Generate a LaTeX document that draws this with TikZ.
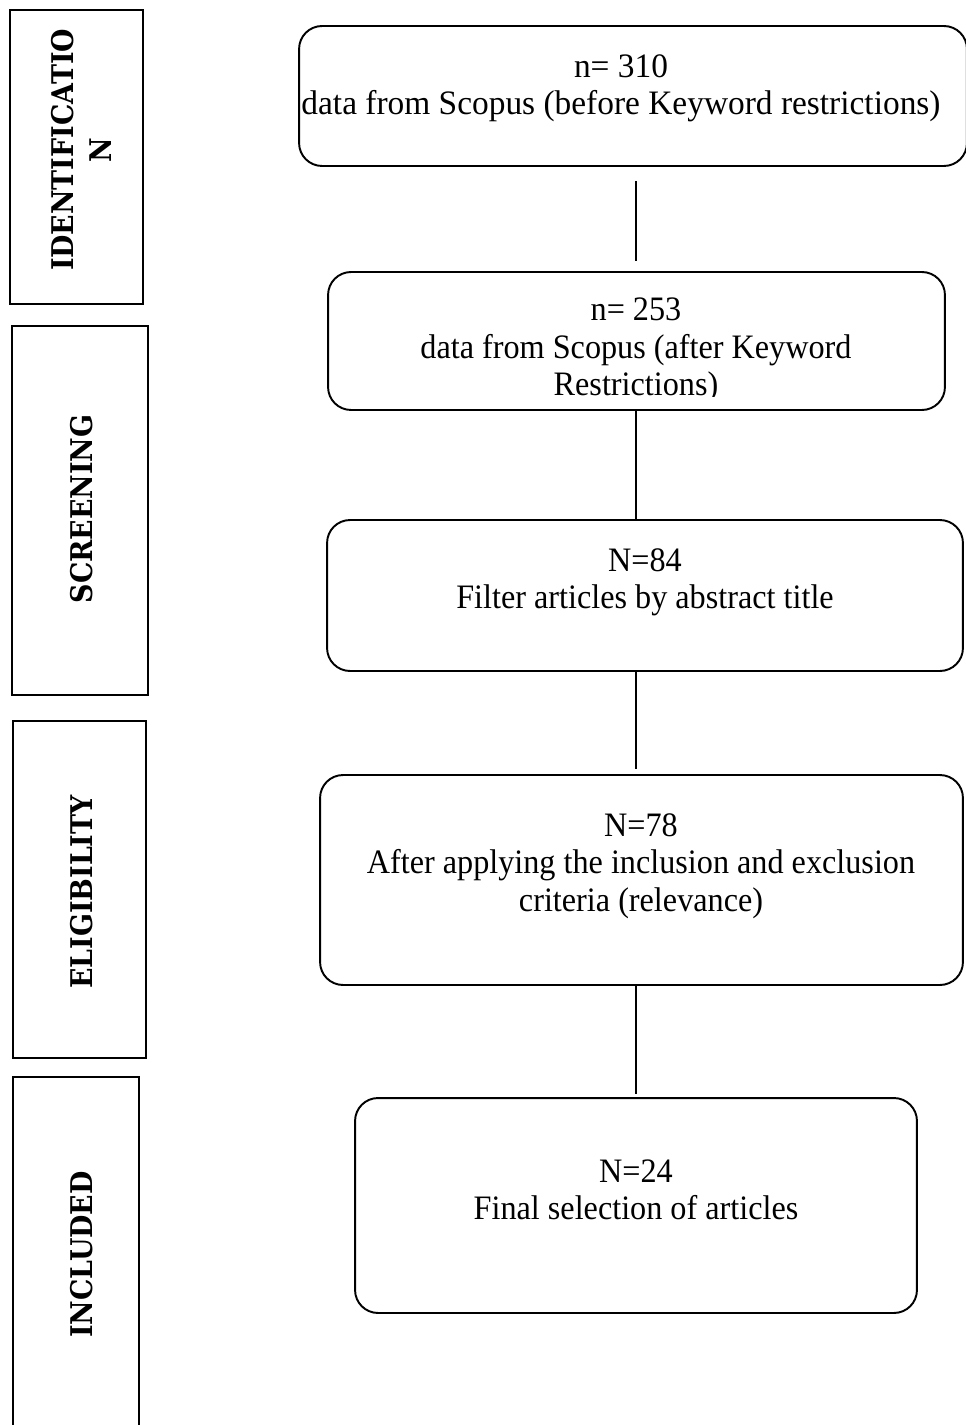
\documentclass[tikz,border=0pt]{standalone}
\usepackage{fontspec}
\setmainfont{Liberation Serif}[FakeStretch=0.94]
\newfontfamily\widefont{Liberation Serif}[FakeStretch=0.975]
\newfontfamily\phasefont{DejaVu Serif}[FakeStretch=0.9]

\begin{document}
\begin{tikzpicture}[x=0.02cm, y=-0.02cm,
    phase/.style={draw, line width=1.4pt},
    phaselabel/.style={rotate=90, align=center, font=\phasefont\bfseries\fontsize{17}{21.6}\selectfont},
    record/.style={draw, rounded corners=0.46cm, line width=1.1pt},
    recordtext/.style={align=center, font=\fontsize{19.5}{21.2}\selectfont},
    link/.style={line width=0.7pt}
    ]

    \useasboundingbox (0,0) rectangle (965,1425);

    % Define phases
    \foreach \name/\pos/\w/\h/\lpos/\txt in {
        identification/{76.5,157}/2.66/5.88/{81,150}/{IDENTIFICATIO\\N},
        screening/{80,510.5}/2.72/7.38/{82,509}/{SCREENING},
        eligibility/{79.5,889.5}/2.66/6.74/{82,892}/{ELIGIBILITY},
        included/{76,1288.5}/2.52/8.46/{82,1250}/{INCLUDED}
    }{
        \node[phase, minimum width=\w cm, minimum height=\h cm] (\name) at (\pos) {};
        \node[phaselabel] (\name-label) at (\lpos) {\txt};
    }

    % Define records
    \node[record, minimum width=13.36cm, minimum height=2.80cm] (b1) at (633,96) {};
    \node[recordtext, font=\widefont\fontsize{19.5}{21.2}\selectfont] (b1-text) at (621,88) {n= 310\\data from Scopus (before Keyword restrictions)};
    \node[record, minimum width=12.34cm, minimum height=2.76cm] (b2) at (636.5,341) {};
    \begin{scope}
        \clip (b2.north west) rectangle (945,396);
        \node[recordtext] (b2-text) at (636,350.5) {n= 253\\data from Scopus (after Keyword\\Restrictions)};
    \end{scope}
    \node[record, minimum width=12.72cm, minimum height=3.02cm] (b3) at (645,595.5) {};
    \node[recordtext] (b3-text) at (645,582.5) {N=84\\Filter articles by abstract title};
    \node[record, minimum width=12.86cm, minimum height=4.20cm] (b4) at (641.5,880) {};
    \node[recordtext] (b4-text) at (641,866) {N=78\\After applying the inclusion and exclusion\\criteria (relevance)};
    \node[record, minimum width=11.24cm, minimum height=4.30cm] (b5) at (636,1205.5) {};
    \node[recordtext] (b5-text) at (636,1190) {N=24\\Final selection of articles};

    % Define links
    \coordinate (spine) at (636,0);
    \foreach \from/\to/\s/\e in {b1/b2/0.28/0.2, b2/b3/0/0, b3/b4/0/0.1, b4/b5/0/0.06}{
        \draw[link, shorten <=\s cm, shorten >=\e cm] (\from.south -| spine) -- (\to.north -| spine);
    }
\end{tikzpicture}
\end{document}
